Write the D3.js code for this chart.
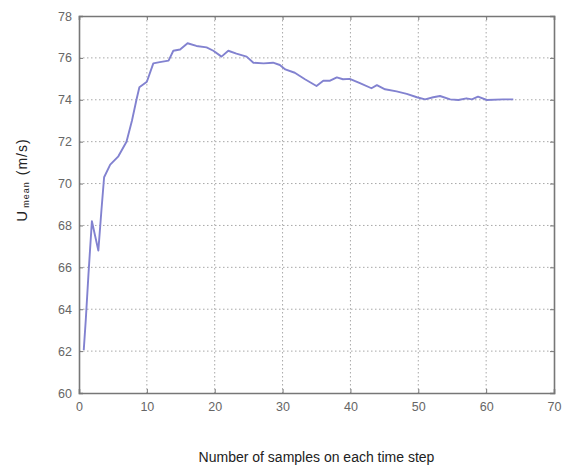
<!DOCTYPE html>
<html>
<meta charset="utf-8">
<style>
  body { margin: 0; background: #fff; }
  .grid line { stroke: #a8a8a8; stroke-dasharray: 1.5,2.5; }
  .axis text { fill: #666; font-family: "Liberation Sans Narrow", "Liberation Sans", Arial, sans-serif; font-size: 12.5px; }
  .axis line, .axis path { stroke: #777; }
</style>
<body>
<script src="https://d3js.org/d3.v7.min.js"></script>
<script>
  // samples vs mean velocity
  let samples = [0.7, 1.0, 1.4, 1.9, 2.85, 3.3, 3.7, 4.6, 5.8, 7.0, 7.8, 8.5, 8.9, 10.0, 10.95, 11.9, 13.2, 13.9, 14.9, 16.0,
    17.3, 18.8, 19.8, 21.0, 22.0, 23.2, 24.7, 25.7, 27.2, 28.6, 29.6, 30.4, 31.8, 33.3, 35.0, 36.0, 37.0, 38.0, 38.9, 39.9,
    41.4, 43.1, 43.9, 45.1, 46.8, 48.3, 49.8, 51.0, 52.2, 53.2, 54.7, 55.9, 57.1, 57.9, 58.8, 60.1, 62.5, 64.0];
  let umean = [62.05, 63.5, 65.7, 68.2, 66.8, 68.7, 70.3, 70.9, 71.3, 72.0, 73.0, 74.05, 74.6, 74.86, 75.74, 75.8, 75.87, 76.34, 76.4, 76.7,
    76.57, 76.5, 76.34, 76.06, 76.34, 76.2, 76.06, 75.77, 75.74, 75.77, 75.66, 75.45, 75.29, 74.98, 74.66, 74.91, 74.91, 75.07, 74.98, 75.0,
    74.8, 74.55, 74.7, 74.5, 74.4, 74.28, 74.12, 74.02, 74.12, 74.18, 74.02, 73.99, 74.07, 74.02, 74.15, 73.99, 74.02, 74.02];
  let xTicks = [0, 10, 20, 30, 40, 50, 60, 70];
  let yTicks = [60, 62, 64, 66, 68, 70, 72, 74, 76, 78];

  let width = 563, height = 470;
  let m = {left: 79, right: 554, top: 16, bottom: 393};

  let svg = d3.select("body").append("svg")
    .attr("width", width)
    .attr("height", height);

  let x = d3.scaleLinear().domain([0, 70]).range([m.left, m.right]);
  let y = d3.scaleLinear().domain([60, 78]).range([m.bottom, m.top]);

  // dotted grid
  let grid = svg.append("g").attr("class", "grid");
  grid.selectAll(".gx")
    .data(xTicks.slice(1, -1))
    .join("line")
    .attr("x1", d => x(d)).attr("x2", d => x(d))
    .attr("y1", m.top).attr("y2", m.bottom);
  grid.selectAll(".gy")
    .data(yTicks.slice(1, -1))
    .join("line")
    .attr("y1", d => y(d)).attr("y2", d => y(d))
    .attr("x1", m.left).attr("x2", m.right);

  // axes with inward ticks on all four sides
  svg.append("g").attr("class", "axis")
    .attr("transform", `translate(0,${m.bottom})`)
    .call(d3.axisBottom(x).tickValues(xTicks).tickSize(-4).tickPadding(9));
  svg.append("g").attr("class", "axis")
    .attr("transform", `translate(0,${m.top})`)
    .call(d3.axisTop(x).tickValues(xTicks).tickSize(-4).tickFormat(""));
  svg.append("g").attr("class", "axis")
    .attr("transform", `translate(${m.left},0)`)
    .call(d3.axisLeft(y).tickValues(yTicks).tickSize(-4).tickPadding(7));
  svg.append("g").attr("class", "axis")
    .attr("transform", `translate(${m.right},0)`)
    .call(d3.axisRight(y).tickValues(yTicks).tickSize(-4).tickFormat(""));
  svg.selectAll(".axis path").attr("stroke-width", 1.6);

  let line = d3.line()
    .x((d, i) => x(samples[i]))
    .y(d => y(d));

  svg.append("path")
    .datum(umean)
    .attr("fill", "none")
    .attr("stroke", "#8282d0")
    .attr("stroke-width", 1.9)
    .attr("stroke-linejoin", "round")
    .attr("d", line);

  // labels
  svg.append("text")
    .attr("x", (m.left + m.right) / 2)
    .attr("y", 462)
    .attr("text-anchor", "middle")
    .attr("font-family", "Liberation Sans Narrow, Liberation Sans, Arial, sans-serif")
    .attr("font-size", 14)
    .attr("fill", "#222")
    .text("Number of samples on each time step");

  let yl = svg.append("text")
    .attr("transform", "translate(27,180) rotate(-90)")
    .attr("text-anchor", "middle")
    .attr("font-family", "Liberation Sans, Arial, sans-serif")
    .attr("font-size", 15)
    .attr("fill", "#222");
  yl.append("tspan").text("U");
  yl.append("tspan").attr("font-size", 9).attr("dy", 2).attr("dx", 3).attr("letter-spacing", 1).text("mean");
  yl.append("tspan").attr("dy", -2).attr("dx", 6).attr("font-size", 14).attr("letter-spacing", 1).text("(m/s)");
</script>
</body>
</html>
